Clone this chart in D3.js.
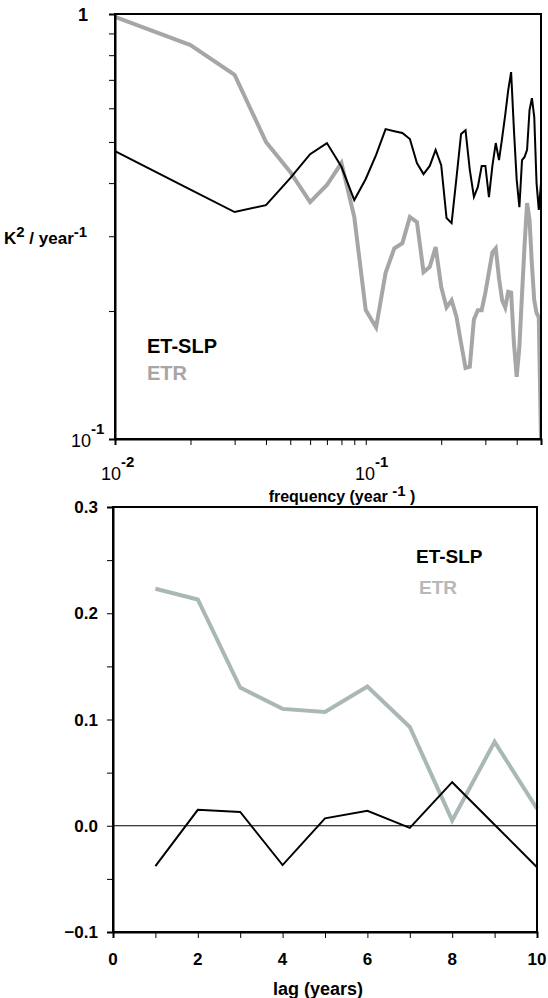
<!DOCTYPE html>
<html>
<head>
<meta charset="utf-8">
<script src="https://cdn.jsdelivr.net/npm/d3@7"></script>
<style>
  body { margin: 0; background: #fff; }
  svg { display: block; font-family: "Liberation Sans", Arial, sans-serif; }
</style>
</head>
<body>
<div id="chart"></div>
<script>
// spectrum (top panel)
const freq = [0.01,0.02,0.03,0.04,0.05,0.06,0.07,0.08,0.09,0.10,
              0.11,0.12,0.13,0.14,0.15,0.16,0.17,0.18,0.19,0.20,
              0.21,0.22,0.23,0.24,0.25,0.26,0.27,0.28,0.29,0.30,
              0.31,0.32,0.33,0.34,0.35,0.36,0.37,0.38,0.39,0.40,
              0.41,0.42,0.43,0.44,0.45,0.46,0.47,0.48,0.49,0.50];
const specSLP = [0.476,0.386,0.342,0.355,0.411,0.468,0.497,0.437,0.365,0.409,
                 0.466,0.536,0.530,0.525,0.508,0.446,0.420,0.439,0.479,0.441,
                 0.331,0.322,0.411,0.522,0.533,0.430,0.371,0.392,0.439,0.439,
                 0.371,0.439,0.497,0.453,0.511,0.579,0.662,0.730,0.533,0.407,
                 0.351,0.453,0.461,0.479,0.594,0.634,0.572,0.400,0.346,0.400];
const specETR = [0.984,0.845,0.719,0.500,0.425,0.361,0.396,0.446,0.333,0.201,
                 0.183,0.246,0.281,0.289,0.333,0.324,0.247,0.254,0.283,0.228,
                 0.204,0.212,0.194,0.168,0.147,0.148,0.191,0.201,0.201,0.221,
                 0.247,0.275,0.281,0.239,0.212,0.204,0.222,0.221,0.168,0.140,
                 0.165,0.219,0.286,0.359,0.328,0.257,0.212,0.198,0.193,0.100];
const specYTicks = [0.1,0.2,0.3,0.4,0.5,0.6,0.7,0.8,0.9,1];
const specXTicks = [0.01,0.02,0.03,0.04,0.05,0.06,0.07,0.08,0.09,0.1,0.2,0.3,0.4,0.5];

// correlation (bottom panel)
const lags = [1,2,3,4,5,6,7,8,9,10];
const corrSLP = [-0.038,0.015,0.013,-0.037,0.007,0.014,-0.002,0.041,0.001,-0.039];
const corrETR = [0.223,0.213,0.130,0.110,0.107,0.131,0.093,0.005,0.079,0.016];
const corrYTicks = [-0.1,-0.05,0,0.05,0.1,0.15,0.2,0.25,0.3];
const corrYLabels = [-0.1,0,0.1,0.2,0.3];
const lagTicks = [0,1,2,3,4,5,6,7,8,9,10];
const lagLabels = [0,2,4,6,8,10];

const width = 548, height = 998;
const svg = d3.select("#chart").append("svg")
  .attr("width", width).attr("height", height);

const black = "#000", grey1 = "#a6a6a6", grey2 = "#a9b8b6";

// ---------- top panel ----------
const x1 = d3.scaleLog().domain([0.01, 0.5]).range([115, 541]);
const y1 = d3.scaleLog().domain([0.1, 1]).range([439, 14]);

svg.append("clipPath").attr("id", "c1")
  .append("rect").attr("x", 115).attr("y", 14).attr("width", 426).attr("height", 425);

const line1 = d3.line().x((d, i) => x1(freq[i])).y(d => y1(d));

const g1 = svg.append("g");
g1.append("path").datum(specETR).attr("d", line1)
  .attr("clip-path", "url(#c1)")
  .attr("fill", "none").attr("stroke", grey1).attr("stroke-width", 4);
g1.append("path").datum(specSLP).attr("d", line1)
  .attr("clip-path", "url(#c1)")
  .attr("fill", "none").attr("stroke", black).attr("stroke-width", 2);

g1.append("rect").attr("x", 115).attr("y", 14).attr("width", 426).attr("height", 425)
  .attr("fill", "none").attr("stroke", black).attr("stroke-width", 2);

g1.append("g").attr("transform", "translate(115,0)")
  .call(d3.axisLeft(y1).tickValues(specYTicks).tickFormat("").tickSize(6))
  .call(a => a.select(".domain").attr("stroke-width", 2));
g1.append("g").attr("transform", "translate(0,439)")
  .call(d3.axisBottom(x1).tickValues(specXTicks).tickFormat("").tickSize(6))
  .call(a => a.select(".domain").attr("stroke-width", 2));

// log labels
g1.append("text").attr("x", 88).attr("y", 21).attr("text-anchor", "end")
  .attr("font-size", 18).attr("font-weight", "bold").text("1");

function pow10(g, x, y, exp) {
  const t = g.append("text").attr("x", x).attr("y", y).attr("font-size", 18);
  t.append("tspan").text("10");
  t.append("tspan").attr("dy", -13).attr("font-size", 15).attr("font-weight", "bold").text(exp);
}
pow10(g1, 71, 447, "-1");
pow10(g1, 101, 480, "-2");
pow10(g1, 355, 480, "-1");

const xl1 = g1.append("text").attr("x", 342).attr("y", 502).attr("text-anchor", "middle")
  .attr("font-size", 16).attr("font-weight", "bold");
xl1.append("tspan").text("frequency (year ");
xl1.append("tspan").attr("dy", -6).attr("font-size", 15).text("-1");
xl1.append("tspan").attr("dy", 6).text("  )");

const yl1 = g1.append("text").attr("x", 4).attr("y", 244)
  .attr("font-size", 17).attr("font-weight", "bold");
yl1.append("tspan").text("K");
yl1.append("tspan").attr("dy", -7).attr("font-size", 15).text("2");
yl1.append("tspan").attr("dy", 7).text(" / year");
yl1.append("tspan").attr("dy", -7).attr("font-size", 15).text("-1");

g1.append("text").attr("x", 147).attr("y", 353).attr("font-size", 20)
  .attr("font-weight", "bold").attr("fill", black).text("ET-SLP");
g1.append("text").attr("x", 147).attr("y", 380).attr("font-size", 20)
  .attr("font-weight", "bold").attr("fill", grey1).text("ETR");

// ---------- bottom panel ----------
const x2 = d3.scaleLinear().domain([0, 10]).range([113, 537]);
const y2 = d3.scaleLinear().domain([-0.1, 0.3]).range([932, 507]);

const line2 = d3.line().x((d, i) => x2(lags[i])).y(d => y2(d));

const g2 = svg.append("g");
g2.append("line").attr("x1", x2(0)).attr("x2", x2(10))
  .attr("y1", y2(0)).attr("y2", y2(0)).attr("stroke", black).attr("stroke-width", 1);

g2.append("path").datum(corrETR).attr("d", line2)
  .attr("fill", "none").attr("stroke", grey2).attr("stroke-width", 4);
g2.append("path").datum(corrSLP).attr("d", line2)
  .attr("fill", "none").attr("stroke", black).attr("stroke-width", 2);

g2.append("rect").attr("x", 113).attr("y", 507).attr("width", 424).attr("height", 425)
  .attr("fill", "none").attr("stroke", black).attr("stroke-width", 2);

g2.append("g").attr("transform", "translate(113,0)")
  .call(d3.axisLeft(y2).tickValues(corrYTicks).tickFormat("").tickSize(6))
  .call(a => a.select(".domain").attr("stroke-width", 2));
g2.append("g").attr("transform", "translate(0,932)")
  .call(d3.axisBottom(x2).tickValues(lagTicks).tickFormat("").tickSize(6))
  .call(a => a.select(".domain").attr("stroke-width", 2));

g2.selectAll(".ylab").data(corrYLabels).enter().append("text")
  .attr("x", 98).attr("y", d => y2(d) + 6).attr("text-anchor", "end")
  .attr("font-size", 17).attr("font-weight", "bold")
  .text(d => d3.format(".1f")(d));

g2.selectAll(".xlab").data(lagLabels).enter().append("text")
  .attr("x", d => x2(d)).attr("y", 965).attr("text-anchor", "middle")
  .attr("font-size", 17).attr("font-weight", "bold").text(d => d);

g2.append("text").attr("x", 318).attr("y", 995).attr("text-anchor", "middle")
  .attr("font-size", 18).attr("font-weight", "bold").text("lag (years)");

g2.append("text").attr("x", 416).attr("y", 563).attr("font-size", 19)
  .attr("font-weight", "bold").attr("fill", black).text("ET-SLP");
g2.append("text").attr("x", 419).attr("y", 594).attr("font-size", 19)
  .attr("font-weight", "bold").attr("fill", "#b8b8b8").text("ETR");
</script>
</body>
</html>
